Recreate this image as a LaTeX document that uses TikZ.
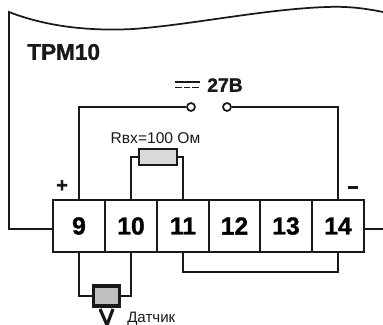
\documentclass[tikz,border=0pt]{standalone}
\usepackage{fontspec}
\usepackage{tikz}
\setmainfont[BoldFeatures={FakeBold=1.2}]{Liberation Sans}
\definecolor{wirecol}{gray}{0.1}
\tikzset{
wire/.style={draw=wirecol,line width=1.3pt},
terminal/.style={draw=wirecol,line width=1.5pt,fill=white,minimum width=38.6pt,minimum height=39pt,inner sep=0pt,font=\fontsize{18.5}{18.5}\selectfont\bfseries},
contact/.style={circle,draw=wirecol,line width=1.3pt,fill=white,minimum size=6pt,inner sep=0pt},
label/.style={inner sep=0pt,text=wirecol}
}

\begin{document}
\begin{tikzpicture}[x=0.75pt,y=-0.75pt]
\useasboundingbox (0,0) rectangle (383,325);

% The terminals
\node[terminal] (t9) at (79,226) {9};
\node[terminal] (t10) at (131,226) {10};
\node[terminal] (t11) at (183,226) {11};
\node[terminal] (t12) at (234.5,226) {12};
\node[terminal] (t13) at (286,226) {13};
\node[terminal] (t14) at (338,226) {14};

% The case
\coordinate (caseleft) at (9,12);
\coordinate (caseright) at (383,229);
\coordinate (casetop) at (383,12);
\draw[wire] ([yshift=-2.25pt]t9.west) -| (caseleft) .. controls (50,28) and (95,31) .. (133,29) .. controls (190,25) and (265,9) .. (327,7) .. controls (350,6) and (368,9) .. (casetop);
\draw[wire] ([yshift=-2.25pt]t14.east) -- (caseright);

% The contacts
\node[contact] (swleft) at (191,107) {};
\node[contact] (swright) at (227,107) {};
\draw[wire] (t9.north) |- (swleft.west);
\draw[wire] (t14.north) |- (swright.east);

% The resistor
\node[draw=wirecol,line width=1.6pt,fill=black!15,minimum width=29pt,minimum height=12.5pt,inner sep=0pt] (rbx) at (158,157) {};
\draw[wire] (t10.north) |- (rbx.west);
\draw[wire] (t11.north) |- (rbx.east);

% The sensor
\node[draw=wirecol,line width=2.8pt,fill=black!25,minimum width=19.5pt,minimum height=14.5pt,inner sep=0pt] (sensor) at (106.5,296) {};
\draw[wire] (t9.south) |- (sensor.west);
\draw[wire] (t10.south) |- (sensor.east);
\draw[draw=wirecol,line width=2.4pt] (100,309) -- (107,325) -- (113,309);

% The link
\coordinate (linkbottom) at (260,272);
\draw[wire] (t11.south) |- (linkbottom) -| (t14.south);

% The labels
\node[label,anchor=west,font=\fontsize{17}{17}\selectfont\bfseries] (title) at (27,52) {ТРМ10};
\node[label,anchor=west,font=\fontsize{14.5}{14.5}\selectfont\bfseries] (volt) at (207,85) {27В};
\node[label,font=\fontsize{11.7}{11.7}\selectfont] (rlabel) at (155.5,138) {Rвх=100 Ом};
\node[label,anchor=west,font=\fontsize{11.3}{11.3}\selectfont] (senslabel) at (127,319) {Датчик};
\node[label,font=\fontsize{15}{15}\selectfont\bfseries] (plus) at (62,186) {+};
\node[draw=wirecol,fill=wirecol,minimum width=7pt,minimum height=1.8pt,inner sep=0pt] (minus) at (353,187) {};

% The DC sign
\draw[draw=wirecol,line width=1.3pt] (175,82) -- (200,82);
\draw[draw=wirecol,line width=1.3pt,dash pattern=on 5pt off 1.5pt] (175,87.5) -- (200,87.5);
\end{tikzpicture}
\end{document}
